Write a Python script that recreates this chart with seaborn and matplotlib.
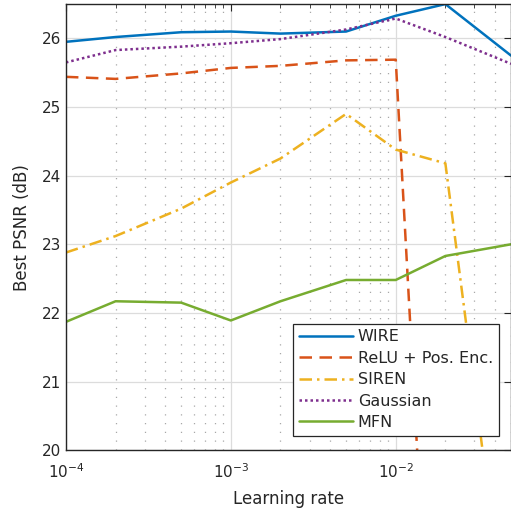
import numpy as np
import pandas as pd
import seaborn as sns
import matplotlib
matplotlib.use("Agg")
from matplotlib import pyplot as plt
from matplotlib.ticker import LogLocator, NullFormatter

# 学习率
lr = [1e-4, 2e-4, 5e-4, 1e-3, 2e-3, 5e-3, 1e-2, 2e-2, 5e-2]
# 各方法的最佳PSNR
wire = [25.95, 26.02, 26.09, 26.10, 26.07, 26.10, 26.33, 26.50, 25.75]
relu = [25.44, 25.41, 25.49, 25.57, 25.60, 25.68, 25.69, 12.5, 12.0]
siren = [22.88, 23.12, 23.52, 23.90, 24.25, 24.90, 24.38, 24.18, 16.8]
gauss = [25.65, 25.83, 25.88, 25.93, 25.99, 26.13, 26.29, 26.02, 25.63]
mfn = [21.87, 22.17, 22.15, 21.89, 22.17, 22.48, 22.48, 22.83, 23.00]

names = ['WIRE', 'ReLU + Pos. Enc.', 'SIREN', 'Gaussian', 'MFN']
series = [wire, relu, siren, gauss, mfn]
colors = ['#0072BD', '#D95319', '#EDB120', '#7E2F8E', '#77AC30']
styles = ['-', (0, (5, 3)), (0, (5, 2, 1, 2)), (0, (1, 1.2)), '-']

sns.set_style('white')
plt.rcParams['font.family'] = ['DejaVu Sans']

fig = plt.figure(figsize=(5.11, 5.11), dpi=100)
ax = fig.add_axes([0.129, 0.119, 0.871, 0.873])

for name, vals, c, ls in zip(names, series, colors, styles):
    df = pd.DataFrame({'lr': lr, 'psnr': vals})
    sns.lineplot(data=df, x='lr', y='psnr', ax=ax, color=c, linestyle=ls,
                 linewidth=1.8, label=name)

ax.set_xscale('log')
ax.set_xlim(1e-4, 5e-2)
ax.set_ylim(20, 26.5)
ax.set_yticks([20, 21, 22, 23, 24, 25, 26])
ax.xaxis.set_minor_locator(LogLocator(base=10, subs=np.arange(2, 10)))
ax.xaxis.set_minor_formatter(NullFormatter())

# 网格
ax.grid(True, which='major', color='#dcdcdc', linewidth=0.9)
ax.grid(True, which='minor', axis='x', color='#a8a8a8', linestyle=(0, (1, 6)), linewidth=0.9)
ax.set_axisbelow(True)

ax.tick_params(which='both', direction='in', top=True, right=True, labelsize=11, colors='#262626')
ax.tick_params(which='major', length=5)
ax.tick_params(which='minor', length=3)
ax.tick_params(axis='x', which='major', pad=9)
for s in ax.spines.values():
    s.set_color('#262626')
    s.set_linewidth(1.0)

ax.set_xlabel('Learning rate', fontsize=12, color='#262626', labelpad=6)
ax.set_ylabel('Best PSNR (dB)', fontsize=12, color='#262626', labelpad=8)

leg = ax.legend(loc='lower right', bbox_to_anchor=(0.99, 0.015), fontsize=11.5,
                frameon=True, fancybox=False, edgecolor='#262626', framealpha=1,
                handlelength=3.4, borderpad=0.35, labelspacing=0.4, handletextpad=0.3)
leg.get_frame().set_linewidth(0.9)

fig.savefig('out.png', dpi=100)
